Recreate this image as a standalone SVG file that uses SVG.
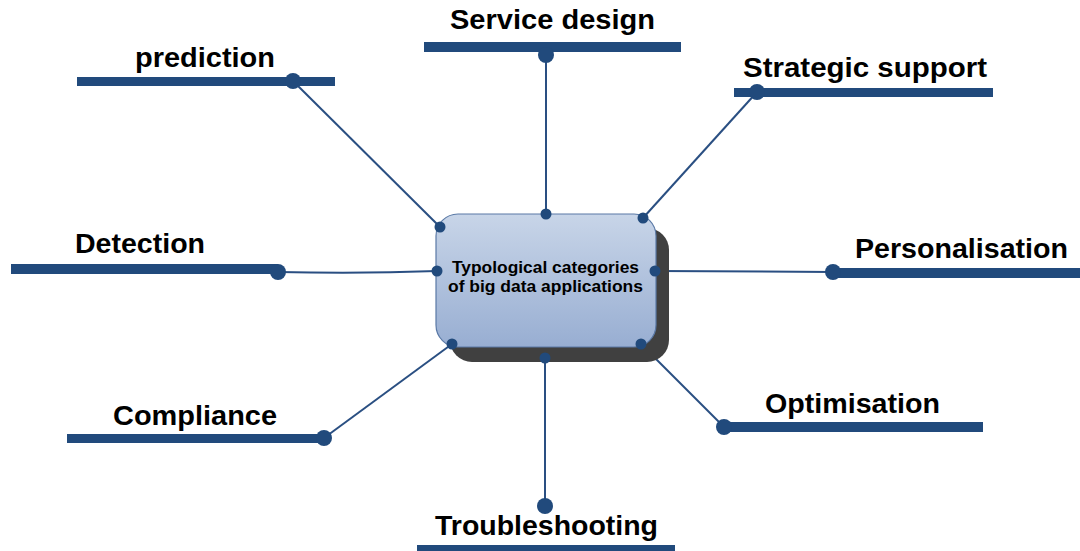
<svg xmlns="http://www.w3.org/2000/svg" width="1080" height="551" viewBox="0 0 1080 551">
  <defs>
    <linearGradient id="boxFill" x1="0" y1="0" x2="0" y2="1">
      <stop offset="0" stop-color="#c8d5e8"/>
      <stop offset="1" stop-color="#98aed2"/>
    </linearGradient>
    <style>
      .bar { fill: #214a7c; }
      .dot { fill: #214a7c; }
      .link { stroke: #2a4f82; stroke-width: 2; fill: none; }
      .label { font-family: "Liberation Sans", Arial, sans-serif; font-weight: bold; font-size: 27px; fill: #000; }
      .core { font-family: "Liberation Sans", Arial, sans-serif; font-weight: bold; font-size: 16px; fill: #000; }
    </style>
  </defs>

  <rect width="1080" height="551" fill="#ffffff"/>

  <!-- connectors from the hub to each category bar -->
  <g id="connectors">
    <line class="link" x1="293" y1="81" x2="440" y2="227"/>
    <line class="link" x1="546" y1="55" x2="546" y2="214"/>
    <line class="link" x1="757" y1="92" x2="643" y2="218"/>
    <path class="link" d="M278 272 Q360 274 437 271"/>
    <line class="link" x1="833" y1="272" x2="655" y2="271"/>
    <line class="link" x1="724" y1="427" x2="641" y2="344"/>
    <line class="link" x1="324" y1="438" x2="452" y2="344"/>
    <line class="link" x1="545" y1="506" x2="545" y2="358"/>
  </g>

  <!-- central hub -->
  <g id="hub">
    <rect x="450" y="228" width="219" height="134" rx="22" fill="#404040"/>
    <rect x="436" y="214" width="220" height="133" rx="22" fill="url(#boxFill)" stroke="#5a79a6" stroke-width="1.2"/>
    <text class="core" x="452" y="273" textLength="187" lengthAdjust="spacingAndGlyphs">Typological categories</text>
    <text class="core" x="448" y="292" textLength="195" lengthAdjust="spacingAndGlyphs">of big data applications</text>
    <circle class="dot" cx="440" cy="227" r="5.5"/>
    <circle class="dot" cx="546" cy="214" r="5.5"/>
    <circle class="dot" cx="643" cy="218" r="5.5"/>
    <circle class="dot" cx="437" cy="271" r="5.5"/>
    <circle class="dot" cx="655" cy="271" r="5.5"/>
    <circle class="dot" cx="452" cy="344" r="5.5"/>
    <circle class="dot" cx="545" cy="358" r="5.5"/>
    <circle class="dot" cx="641" cy="344" r="5.5"/>
  </g>

  <g id="prediction">
    <rect class="bar" x="77" y="77" width="258" height="9"/>
    <circle class="dot" cx="293" cy="81" r="8"/>
    <text class="label" x="135" y="67" textLength="140" lengthAdjust="spacingAndGlyphs">prediction</text>
  </g>

  <g id="service-design">
    <rect class="bar" x="424" y="42" width="257" height="10"/>
    <circle class="dot" cx="546" cy="55" r="8"/>
    <text class="label" x="450" y="29" textLength="205" lengthAdjust="spacingAndGlyphs">Service design</text>
  </g>

  <g id="strategic-support">
    <rect class="bar" x="734" y="88" width="259" height="9"/>
    <circle class="dot" cx="757" cy="92" r="8"/>
    <text class="label" x="743" y="77" textLength="244" lengthAdjust="spacingAndGlyphs">Strategic support</text>
  </g>

  <g id="detection">
    <rect class="bar" x="11" y="264" width="267" height="10"/>
    <circle class="dot" cx="278" cy="272" r="8"/>
    <text class="label" x="75" y="253" textLength="130" lengthAdjust="spacingAndGlyphs">Detection</text>
  </g>

  <g id="personalisation">
    <rect class="bar" x="833" y="268" width="247" height="10"/>
    <circle class="dot" cx="833" cy="272" r="8"/>
    <text class="label" x="855" y="258" textLength="213" lengthAdjust="spacingAndGlyphs">Personalisation</text>
  </g>

  <g id="optimisation">
    <rect class="bar" x="724" y="422" width="259" height="10"/>
    <circle class="dot" cx="724" cy="427" r="8"/>
    <text class="label" x="765" y="413" textLength="175" lengthAdjust="spacingAndGlyphs">Optimisation</text>
  </g>

  <g id="compliance">
    <rect class="bar" x="67" y="434" width="258" height="9"/>
    <circle class="dot" cx="324" cy="438" r="8"/>
    <text class="label" x="113" y="425" textLength="164" lengthAdjust="spacingAndGlyphs">Compliance</text>
  </g>

  <g id="troubleshooting">
    <rect class="bar" x="417" y="545" width="258" height="9"/>
    <circle class="dot" cx="545" cy="506" r="8"/>
    <text class="label" x="435" y="535" textLength="223" lengthAdjust="spacingAndGlyphs">Troubleshooting</text>
  </g>
</svg>
